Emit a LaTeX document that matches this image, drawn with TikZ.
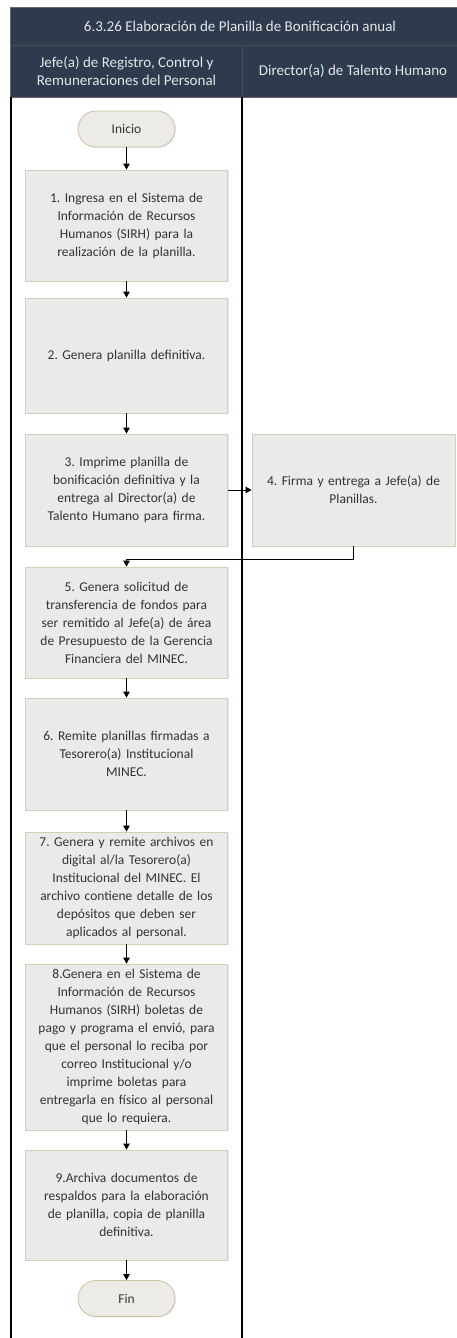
\documentclass[tikz,border=0pt]{standalone}
\usepackage{fontspec}
\setmainfont{Carlito}
\usetikzlibrary{arrows.meta,shadows}
\definecolor{hdr}{HTML}{2E3A4E}
\definecolor{hdrtxt}{HTML}{E6E6E6}
\definecolor{boxfill}{HTML}{EAEAEA}
\definecolor{boxline}{HTML}{D5CDB5}
\definecolor{termfill}{HTML}{EDEBE5}
\definecolor{termline}{HTML}{CBC1A0}
\definecolor{txt}{HTML}{333333}
\begin{document}
\frenchspacing
\begin{tikzpicture}[x=1pt,y=-1pt,
  stepbox/.style={draw=boxline,fill=boxfill,line width=0.8pt,minimum width=202pt,
    text width=198pt,align=center,inner sep=2pt,text=txt,
    font=\fontsize{13.5}{18}\selectfont,
    drop shadow={opacity=0.18,shadow xshift=1pt,shadow yshift=-1.2pt}},
  term/.style={draw=termline,fill=termfill,line width=0.8pt,rounded corners=18pt,
    minimum width=97pt,minimum height=36pt,text=txt,font=\fontsize{13.5}{16}\selectfont,
    drop shadow={opacity=0.18,shadow xshift=1pt,shadow yshift=-1.2pt}},
  arr/.style={draw=black,line width=0.9pt,-{Triangle[length=6pt,width=6.5pt]}},
  lane/.style={draw=black,line width=1.1pt},
  hdrtext/.style={text=hdrtxt,font=\fontsize{15}{18}\selectfont,align=center}
]
\useasboundingbox (0,0) rectangle (457,1338);
% header band
\fill[hdr] (10,7) rectangle (470,97);
\draw[black!70,line width=0.8pt] (10,45) -- (470,45);
\draw[black!70,line width=0.8pt] (242,45) -- (242,97);
\draw[black!60,line width=0.6pt] (10,7) -- (470,7);
\draw[black!60,line width=0.6pt] (10,7) -- (10,97);
\draw[black!60,line width=0.8pt] (10,97) -- (470,97);
\node[hdrtext] (title) at (240,26.5) {6.3.26 Elaboración de Planilla de Bonificación anual};
\node[hdrtext] (lane1) at (126.5,71) {Jefe(a) de Registro, Control y\\Remuneraciones del Personal};
\node[hdrtext] (lane2) at (353,71) {Director(a) de Talento Humano};
% lanes
\draw[lane] (11,97) -- (11,1338);
\draw[lane] (242,97) -- (242,1338);
% nodes
\node[term] (ini) at (126.5,129) {Inicio};
\node[stepbox,minimum height=111pt] (b1) at (126.5,225.5) {1. Ingresa en el Sistema de\\Información de Recursos\\Humanos (SIRH) para la\\realización de la planilla.};
\node[stepbox,minimum height=115pt] (b2) at (126.5,355.5) {2. Genera planilla definitiva.};
\node[stepbox,minimum height=112pt] (b3) at (126.5,490) {3. Imprime planilla de\\bonificación definitiva y la\\entrega al Director(a) de\\Talento Humano para firma.};
\node[stepbox,minimum height=112pt,minimum width=203pt] (b4) at (353.5,490) {4. Firma y entrega a Jefe(a) de\\Planillas.};
\node[stepbox,minimum height=111pt] (b5) at (126.5,622.5) {5. Genera solicitud de\\transferencia de fondos para\\ser remitido al Jefe(a) de área\\de Presupuesto de la Gerencia\\Financiera del MINEC.};
\node[stepbox,minimum height=112pt] (b6) at (126.5,754) {6. Remite planillas firmadas a\\Tesorero(a) Institucional\\MINEC.};
\node[stepbox,minimum height=112pt] (b7) at (126.5,888) {7. Genera y remite archivos en\\digital al/la Tesorero(a)\\Institucional del MINEC. El\\archivo contiene detalle de los\\depósitos que deben ser\\aplicados al personal.};
\node[stepbox,minimum height=166pt] (b8) at (126.5,1047) {8.Genera en el Sistema de\\Información de Recursos\\Humanos (SIRH) boletas de\\pago y programa el envió, para\\que el personal lo reciba por\\correo Institucional y/o\\imprime boletas para\\entregarla en físico al personal\\que lo requiera.};
\node[stepbox,minimum height=110pt] (b9) at (126.5,1205) {9.Archiva documentos de\\respaldos para la elaboración\\de planilla, copia de planilla\\definitiva.};
\node[term] (fin) at (126.5,1298.5) {Fin};
% connectors
\draw[arr] (ini) -- (b1);
\draw[arr] (b1) -- (b2);
\draw[arr] (b2) -- (b3);
\draw[arr] (b3) -- (b4);
\coordinate (j) at ([yshift=7pt]b5.north);
\draw[arr] (b4.south) |- (j) -- (b5.north);
\draw[arr] (b5) -- (b6);
\draw[arr] (b6) -- (b7);
\draw[arr] (b7) -- (b8);
\draw[arr] (b8) -- (b9);
\draw[arr] (b9) -- (fin);
\end{tikzpicture}
\end{document}
